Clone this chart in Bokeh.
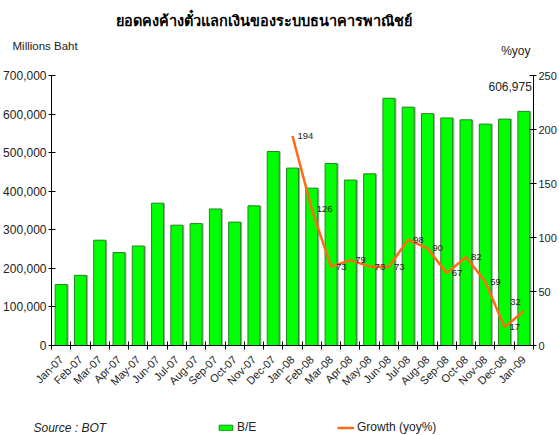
import math
from bokeh.plotting import figure
from bokeh.layouts import column
from bokeh.models import (Range1d, LinearAxis, FixedTicker, NumeralTickFormatter,
                          Legend, LegendItem, ColumnDataSource)
from bokeh.core.properties import value
from bokeh.transform import dodge
from bokeh.embed import file_html
from bokeh.resources import INLINE

# ---------------- data ----------------
months = ["Jan-07", "Feb-07", "Mar-07", "Apr-07", "May-07", "Jun-07", "Jul-07",
          "Aug-07", "Sep-07", "Oct-07", "Nov-07", "Dec-07", "Jan-08", "Feb-08",
          "Mar-08", "Apr-08", "May-08", "Jun-08", "Jul-08", "Aug-08", "Sep-08",
          "Oct-08", "Nov-08", "Dec-08", "Jan-09"]
be_values = [158000, 182000, 273000, 241000, 258000, 369000, 312000,
             316000, 354000, 320000, 362000, 503000, 460000, 408000,
             472000, 429000, 445000, 641000, 618000, 601000, 590000,
             585000, 574000, 587000, 606975]
growth_months = ["Jan-08", "Feb-08", "Mar-08", "Apr-08", "May-08", "Jun-08", "Jul-08",
                 "Aug-08", "Sep-08", "Oct-08", "Nov-08", "Dec-08", "Jan-09"]
growth_values = [194, 126, 73, 79, 73, 73, 98, 90, 67, 82, 59, 17, 32]
left_ticks = [0, 100000, 200000, 300000, 400000, 500000, 600000, 700000]
right_ticks = [0, 50, 100, 150, 200, 250]
title_text = "ยอดคงค้างตั๋วแลกเงินของระบบธนาคารพาณิชย์"
left_title = "Millions Baht"
right_title = "%yoy"
source_text = "Source : BOT"
last_label = "606,975"

FONT = "Liberation Sans"
TXT = "#222222"
W = 559
TOP_H, MAIN_H, BOT_H = 65, 335, 35

x_idx = list(range(len(months)))
g_idx = [months.index(m) for m in growth_months]

bar_src = ColumnDataSource(dict(x=x_idx, top=be_values))
g_src = ColumnDataSource(dict(x=g_idx[:-1], y=growth_values[:-1],
                              lbl=[str(v) for v in growth_values[:-1]]))
g_line_src = ColumnDataSource(dict(x=g_idx, y=growth_values))


def blank_fig(h):
    # frame spans the whole strip, so data x == page x, data y == pixels from top
    f = figure(width=W, height=h, output_backend="svg", toolbar_location=None,
               x_axis_type=None, y_axis_type=None,
               x_range=Range1d(0, W), y_range=Range1d(h, 0),
               min_border_left=0, min_border_right=0,
               min_border_top=0, min_border_bottom=0, frame_align=False)
    f.outline_line_color = None
    f.background_fill_color = "white"
    f.border_fill_color = "white"
    return f


# ---------------- top texts ----------------
top = blank_fig(TOP_H)
top.text(x=[263], y=[20], text=[title_text], text_align="center", text_baseline="middle",
         text_font=value(FONT), text_font_size="14.5px", text_font_style="bold",
         text_color="black")
top.text(x=[12], y=[45], text=[left_title], text_align="left", text_baseline="middle",
         text_font=value(FONT), text_font_size="11.5px", text_color=TXT)
top.text(x=[530], y=[50], text=[right_title], text_align="right", text_baseline="middle",
         text_font=value(FONT), text_font_size="12px", text_color=TXT)

# ---------------- main chart ----------------
p = figure(width=W, height=MAIN_H, output_backend="svg", toolbar_location=None,
           x_range=Range1d(-0.5, len(months) - 0.5), y_range=Range1d(0, 700000),
           min_border_top=10, min_border_left=50, min_border_right=22,
           min_border_bottom=55, frame_align=False)
p.outline_line_color = None
p.xgrid.visible = False
p.ygrid.visible = False
p.background_fill_color = "white"
p.border_fill_color = "white"
p.extra_y_ranges = {"g": Range1d(0, 250)}

ya = p.yaxis[0]
ya.ticker = FixedTicker(ticks=left_ticks)
ya.formatter = NumeralTickFormatter(format="0,0")
ya.major_tick_in = 4
ya.major_tick_out = 3
ya.minor_tick_line_color = None
ya.major_label_standoff = 2
ya.major_label_text_font = FONT
ya.major_label_text_font_size = "12px"
ya.major_label_text_color = TXT
ya.axis_line_color = "black"
ya.major_tick_line_color = "black"

ra = LinearAxis(y_range_name="g", ticker=FixedTicker(ticks=right_ticks))
ra.major_tick_in = 4
ra.major_tick_out = 3
ra.minor_tick_line_color = None
ra.major_label_standoff = 2
ra.major_label_text_font = FONT
ra.major_label_text_font_size = "11px"
ra.major_label_text_color = TXT
ra.axis_line_color = "black"
ra.major_tick_line_color = "black"
p.add_layout(ra, "right")

xa = p.xaxis[0]
xa.ticker = FixedTicker(ticks=x_idx, minor_ticks=[i - 0.5 for i in range(len(months) + 1)])
xa.major_label_overrides = {i: m for i, m in zip(x_idx, months)}
xa.major_tick_in = 0
xa.major_tick_out = 0
xa.minor_tick_in = 4
xa.minor_tick_out = 4
xa.minor_tick_line_color = "black"
xa.axis_line_color = "black"
xa.major_label_orientation = math.pi / 4
xa.major_label_standoff = 8
xa.major_label_text_font = FONT
xa.major_label_text_font_size = "11px"
xa.major_label_text_color = TXT

BAR_FILL, BAR_LINE, LINE_COL = "#00FF00", "#1f8a1f", "#FF6A13"

p.vbar(x=dodge("x", 0.08), top="top", width=0.62, source=bar_src,
       fill_color="#a8a8a8", line_color=None)
p.vbar(x="x", top="top", width=0.62, source=bar_src,
       fill_color=BAR_FILL, line_color=BAR_LINE, line_width=1)

p.line(x="x", y="y", source=g_line_src, y_range_name="g",
       line_color=LINE_COL, line_width=2.5)
p.text(x="x", y="y", text="lbl", source=g_src, y_range_name="g",
       x_offset=5, text_baseline="middle", text_align="left",
       text_font=value(FONT), text_font_size="9.5px", text_color=TXT)
# last growth label sits against the right axis: keep it inside the plot
p.text(x=[g_idx[-1]], y=[growth_values[-1]], text=[str(growth_values[-1])],
       y_range_name="g", x_offset=-3, y_offset=-9, text_baseline="middle",
       text_align="right", text_font=value(FONT), text_font_size="9.5px",
       text_color=TXT)

p.text(x=[x_idx[-1]], y=[be_values[-1]], text=[last_label],
       x_offset=8, y_offset=-25, text_align="right", text_baseline="middle",
       text_font=value(FONT), text_font_size="12px", text_color=TXT)

# ---------------- bottom: source + legend ----------------
bot = blank_fig(BOT_H)
bot.text(x=[33], y=[27], text=[source_text], text_align="left", text_baseline="middle",
         text_font=value(FONT), text_font_size="12px", text_font_style="italic",
         text_color=TXT)
# legend proxies: same data sources, mapped through ranges that lie off-screen
bot.extra_x_ranges = {"off": Range1d(1000, 2000)}
bot.extra_y_ranges = {"off": Range1d(1e8, 2e8)}
lb = bot.vbar(x="x", top="top", width=0.62, source=bar_src,
              x_range_name="off", y_range_name="off",
              fill_color=BAR_FILL, line_color=BAR_LINE)
ll = bot.line(x="x", y="y", source=g_line_src,
              x_range_name="off", y_range_name="off",
              line_color=LINE_COL, line_width=2.5)
legend = Legend(items=[LegendItem(label="B/E", renderers=[lb]),
                       LegendItem(label="Growth (yoy%)", renderers=[ll])],
                location=(217, 1), orientation="horizontal",
                glyph_width=17, glyph_height=7, label_standoff=3, spacing=80,
                padding=0, margin=0, border_line_color=None,
                background_fill_alpha=0, label_text_font=FONT,
                label_text_font_size="12px", label_text_color=TXT,
                label_height=14)
bot.add_layout(legend, "center")

layout = column(top, p, bot, spacing=0)
open("out.html", "w").write(file_html(layout, INLINE))
